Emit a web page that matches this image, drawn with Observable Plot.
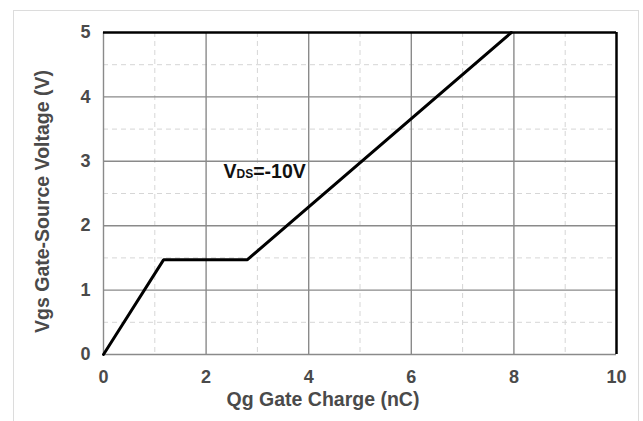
<!DOCTYPE html>
<html>
<head>
<meta charset="utf-8">
<script src="https://cdn.jsdelivr.net/npm/d3@7"></script>
<script src="https://cdn.jsdelivr.net/npm/@observablehq/plot@0.6"></script>
<style>
  body { margin: 0; background: #fff; }
  #wrap { position: relative; width: 643px; height: 421px; overflow: hidden; }
  #border { position: absolute; left: 13px; top: 10px; width: 624px; height: 430px; border: 1.5px solid #dcdcdc; }
  #chart { position: absolute; left: 0; top: 0; }
</style>
</head>
<body>
<div id="wrap"><div id="border"></div><div id="chart"></div></div>
<script>
// Data
const qg = [0, 1.17, 2.8, 7.95];          // gate charge (nC)
const vgs = [0, 1.47, 1.47, 5];           // gate-source voltage (V)
const xMajor = [2, 4, 6, 8];
const xMinor = [1, 3, 5, 7, 9];
const yMajor = [1, 2, 3, 4];
const yMinor = [0.5, 1.5, 2.5, 3.5, 4.5];
const xTicks = [0, 2, 4, 6, 8, 10];
const yTicks = [0, 1, 2, 3, 4, 5];
const xLabel = "Qg Gate Charge (nC)";
const yLabel = "Vgs Gate-Source Voltage (V)";
const annotation = [{x: 2.34, y: 2.83, main: "V", sub: "DS", rest: "=-10V"}];

const curve = qg.map((q, i) => ({q, v: vgs[i]}));
const font = "'Liberation Sans', Arial, sans-serif";
const textColor = "#4a4a4a";

const plot = Plot.plot({
  width: 643,
  height: 421,
  marginLeft: 103,
  marginRight: 27,
  marginTop: 32,
  marginBottom: 67,
  style: {fontFamily: font, background: "transparent", overflow: "visible"},
  x: {domain: [0, 10]},
  y: {domain: [0, 5]},
  marks: [
    Plot.gridX(xMinor, {stroke: "#d6d6d6", strokeOpacity: 1, strokeDasharray: "5,4", strokeWidth: 1}),
    Plot.gridY(yMinor, {stroke: "#d6d6d6", strokeOpacity: 1, strokeDasharray: "5,4", strokeWidth: 1}),
    Plot.gridX(xMajor, {stroke: "#8a8a8a", strokeOpacity: 1, strokeWidth: 1.4}),
    Plot.gridY(yMajor, {stroke: "#8a8a8a", strokeOpacity: 1, strokeWidth: 1.4}),
    Plot.ruleX([0], {stroke: "#8a8a8a", strokeWidth: 1.4}),
    Plot.ruleY([0], {stroke: "#8a8a8a", strokeWidth: 1.4}),
    Plot.ruleX([10], {stroke: "#000", strokeWidth: 2.5}),
    Plot.ruleY([5], {stroke: "#000", strokeWidth: 2.5}),
    Plot.axisX(xTicks, {tickSize: 0, tickPadding: 16, fontSize: 18, fontWeight: "bold", fill: textColor, label: null, tickFormat: "d"}),
    Plot.axisY(yTicks, {tickSize: 0, tickPadding: 13, fontSize: 18, fontWeight: "bold", fill: textColor, label: null, tickFormat: "d"}),
    Plot.line(curve, {x: "q", y: "v", stroke: "#000", strokeWidth: 3, strokeLinejoin: "miter"}),
    Plot.text([xLabel], {frameAnchor: "bottom", textAnchor: "middle", text: d => d, dx: -37, dy: 51, fontSize: 19.5, fontWeight: "bold", fill: textColor}),
    Plot.text([yLabel], {frameAnchor: "left", textAnchor: "middle", text: d => d, rotate: -90, dx: -61, dy: 8, fontSize: 19.5, fontWeight: "bold", fill: textColor}),
    Plot.text(annotation, {x: "x", y: "y", text: d => d.main + d.sub + d.rest, textAnchor: "start", fontSize: 19.5, fontWeight: "bold", fill: "#111", className: "vds"})
  ]
});
document.getElementById("chart").appendChild(plot);

// Render the subscript as real tspans
d3.select(plot).selectAll("g.vds text").each(function(d, i) {
  const a = annotation[i] || annotation[0];
  const t = d3.select(this);
  t.text(null);
  t.append("tspan").text(a.main);
  t.append("tspan").attr("font-size", 12).text(a.sub);
  t.append("tspan").text(a.rest);
});
</script>
</body>
</html>
